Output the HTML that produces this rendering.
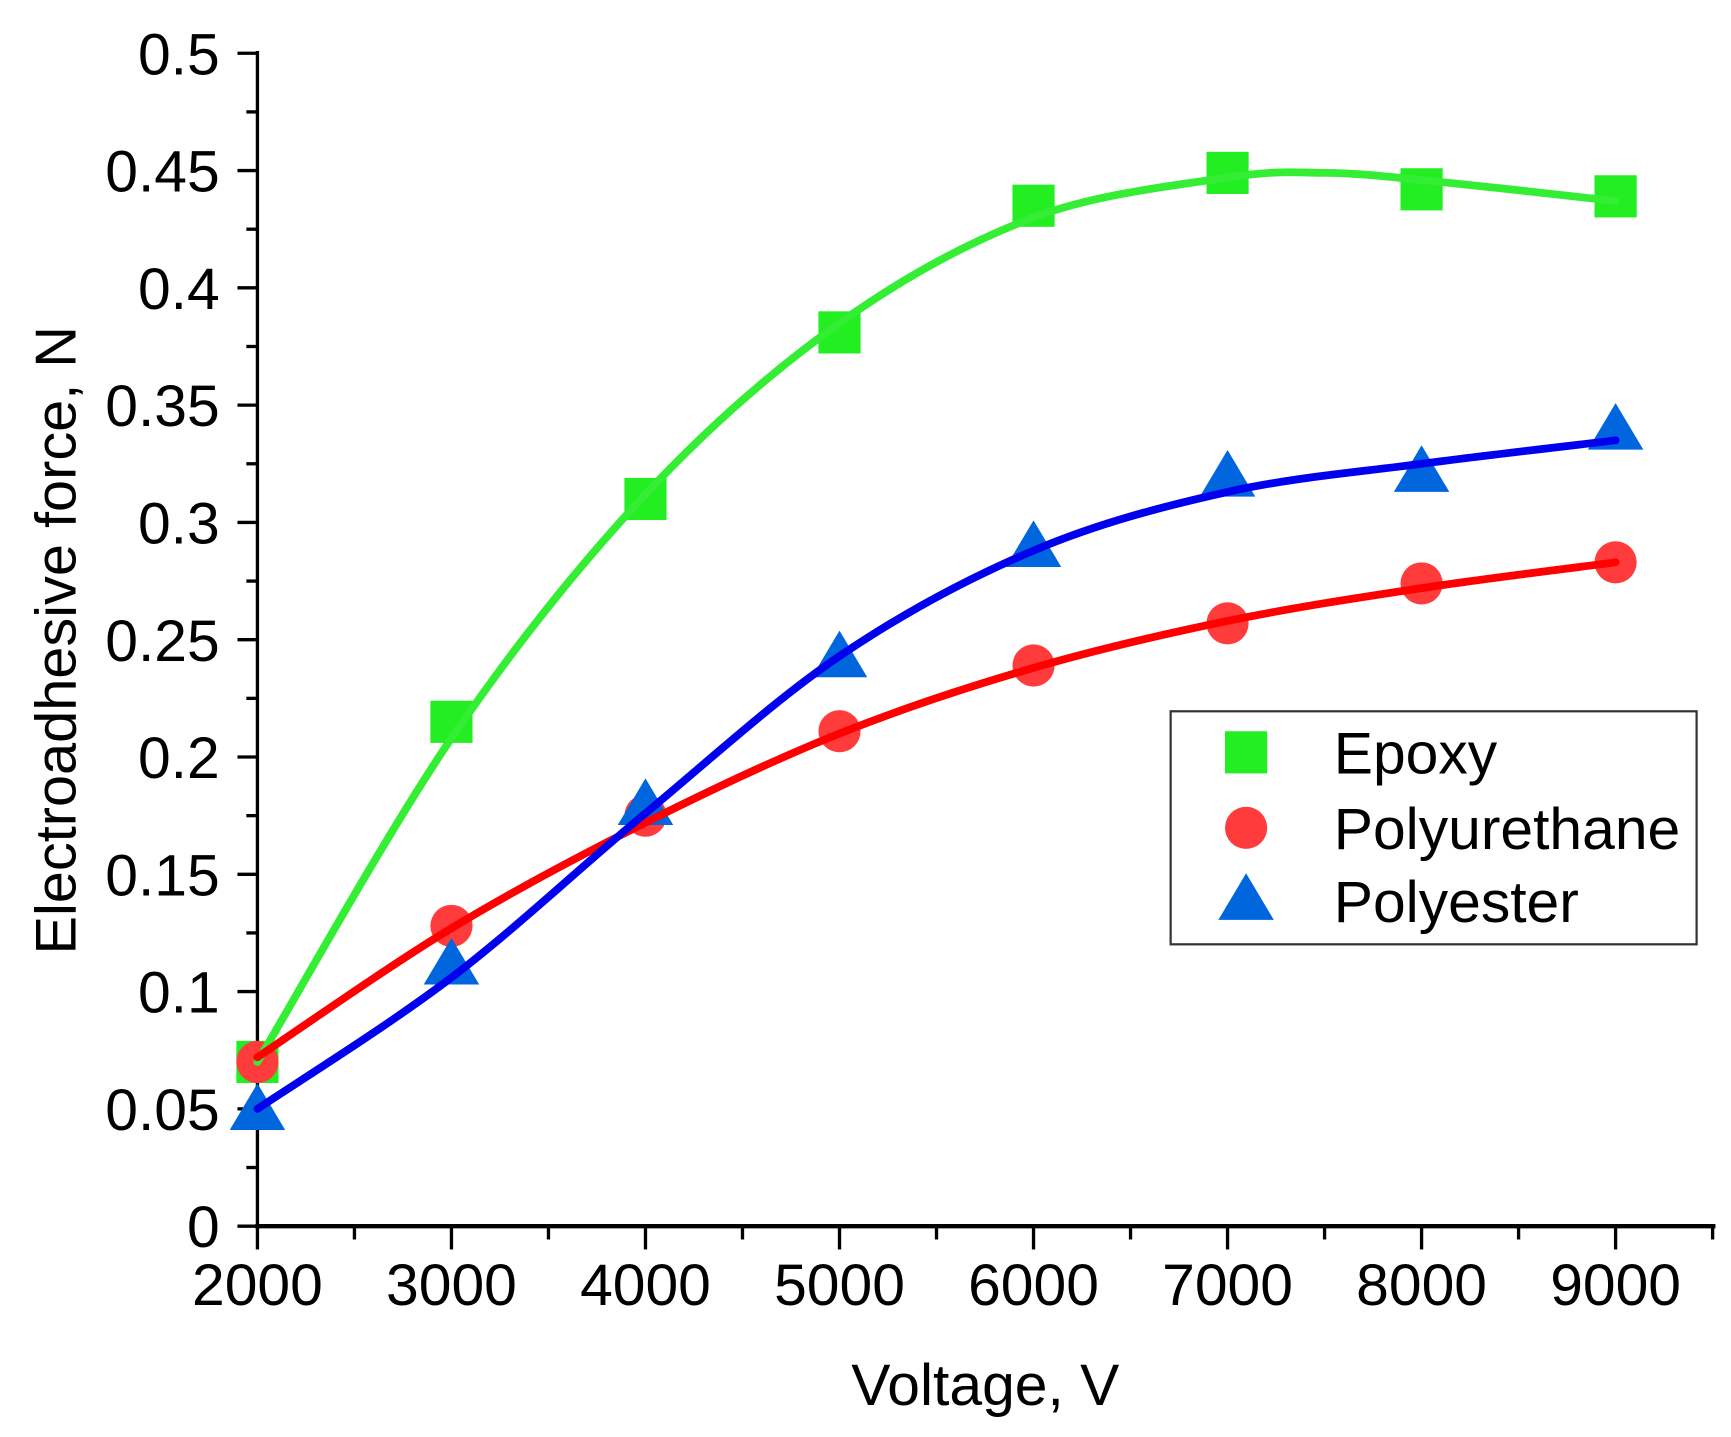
<!DOCTYPE html>
<html><head><style>html,body{margin:0;padding:0;background:#fff;overflow:hidden}svg{display:block}</style></head>
<body>
<svg id="s" width="1731" height="1437" viewBox="0 0 1560 1295" preserveAspectRatio="none" xmlns="http://www.w3.org/2000/svg" font-family="Liberation Sans, Arial, sans-serif">
<g id="g"></g>
</svg>
<script>
const NS="http://www.w3.org/2000/svg",g=document.getElementById('g');
function el(t,a,txt){const e=document.createElementNS(NS,t);for(const k in a)e.setAttribute(k,a[k]);if(txt!==undefined)e.textContent=txt;g.appendChild(e);return e;}
const X=v=>232+(v-2000)*1224/7000, Y=f=>1105-f*2114;
// axes
el('line',{x1:232,y1:46,x2:232,y2:1107,stroke:'#000','stroke-width':3});
el('line',{x1:230,y1:1105,x2:1546,y2:1105,stroke:'#000','stroke-width':4});
for(let i=0;i<=20;i++){const f=i*0.025,y=Y(f);const maj=i%2==0;
 el('line',{x1:maj?214:222,y1:y,x2:232,y2:y,stroke:'#000','stroke-width':3});
 if(maj){let s=(Math.round(f*100)/100).toString();el('text',{x:198,y:y+19,'font-size':53,'text-anchor':'end'},s);}}
for(let v=2000;v<=9500;v+=500){const x=X(v),maj=v%1000==0;
 el('line',{x1:x,y1:1105,x2:x,y2:maj?1126:1117,stroke:'#000','stroke-width':3});
 if(maj&&v<=9000)el('text',{x:x,y:1176,'font-size':53,'text-anchor':'middle'},v);}
el('text',{x:888,y:1266,'font-size':53,'text-anchor':'middle'},'Voltage, V');
el('text',{x:0,y:0,'font-size':52,'text-anchor':'middle',transform:'translate(68,577) rotate(-90)'},'Electroadhesive force, N');
function curve(pts,col){const P=pts.map(p=>[X(p[0]),Y(p[1])]);let d='M'+P[0];for(let i=0;i<P.length-1;i++){const p0=P[Math.max(i-1,0)],p1=P[i],p2=P[i+1],p3=P[Math.min(i+2,P.length-1)];
 d+=' C'+[p1[0]+(p2[0]-p0[0])/6,p1[1]+(p2[1]-p0[1])/6]+' '+[p2[0]-(p3[0]-p1[0])/6,p2[1]-(p3[1]-p1[1])/6]+' '+p2;}
 el('path',{d:d,fill:'none',stroke:col,'stroke-width':7,'stroke-linecap':'round'});}
const V=[2000,3000,4000,5000,6000,7000,8000,9000];
const ep=[0.07,0.215,0.31,0.381,0.435,0.449,0.442,0.439],pu=[0.07,0.128,0.175,0.211,0.239,0.257,0.274,0.283],pe=[0.05,0.112,0.18,0.243,0.29,0.32,0.322,0.34];
const GC='#22ee22',RC='#ff3b3b',BC='#0066dd';
function sq(x,y){el('rect',{x:x-19,y:y-19,width:38,height:38,fill:GC});}
function ci(x,y){el('circle',{cx:x,cy:y,r:19,fill:RC});}
function tr(x,y){el('path',{d:`M${x},${y-23} L${x+25},${y+19} L${x-25},${y+19} Z`,fill:BC});}
V.forEach((v,i)=>sq(X(v),Y(ep[i])));
V.forEach((v,i)=>ci(X(v),Y(pu[i])));
V.forEach((v,i)=>tr(X(v),Y(pe[i])));
curve([[2000,0.07],[3000,0.208],[4000,0.312],[5000,0.385],[6000,0.43],[7000,0.447],[7500,0.449],[8000,0.446],[9000,0.437]],'#33ee33');
curve([[2000,0.072],[3000,0.127],[4000,0.172],[5000,0.21],[6000,0.238],[7000,0.258],[8000,0.272],[9000,0.283]],'#ff0000');
curve([[2000,0.05],[3000,0.106],[4000,0.176],[5000,0.243],[6000,0.288],[7000,0.313],[8000,0.325],[9000,0.335]],'#0000ee');
// legend
el('rect',{x:1055,y:641,width:474,height:210,fill:'#fff',stroke:'#333','stroke-width':2});
sq(1123,678);ci(1123,746);tr(1123,810);
el('text',{x:1202,y:697,'font-size':53},'Epoxy');
el('text',{x:1202,y:765,'font-size':53},'Polyurethane');
el('text',{x:1202,y:831,'font-size':53},'Polyester');
</script>
</body></html>
